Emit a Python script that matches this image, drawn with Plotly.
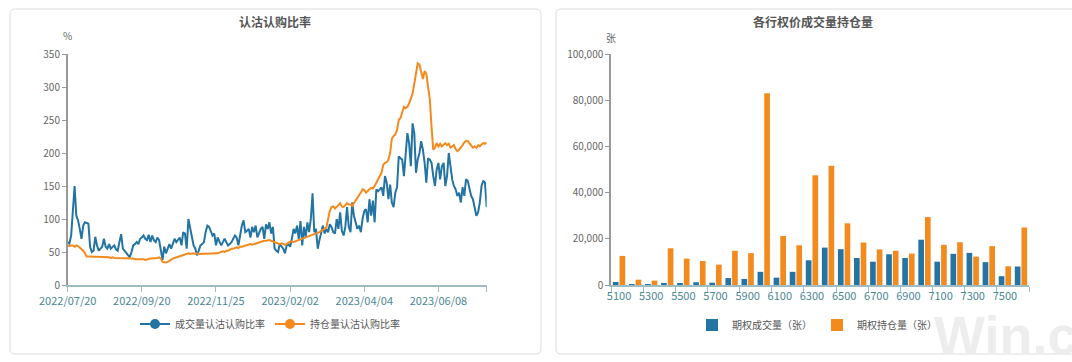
import pandas as pd
import plotly.graph_objects as go

W, H = 1072, 362

# ---------------- data: left chart (daily ratios, %) ----------------
holidays = ["2022-09-12", "2022-10-03", "2022-10-04", "2022-10-05", "2022-10-06", "2022-10-07",
            "2023-01-02", "2023-01-23", "2023-01-24", "2023-01-25", "2023-01-26", "2023-01-27",
            "2023-04-05", "2023-05-01", "2023-05-02", "2023-05-03", "2023-06-22", "2023-06-23"]
dates = pd.bdate_range("2022-07-20", "2023-07-20", freq="C", holidays=holidays).strftime("%Y/%m/%d").tolist()

date_ticks = ["2022/07/20", "2022/09/20", "2022/11/25", "2023/02/02", "2023/04/04", "2023/06/08"]

volume_ratio = [
    65, 63, 75, 120, 150, 105, 98, 85, 70, 90,
    95, 94, 93, 58, 50, 52, 73, 60, 52, 55,
    58, 70, 58, 55, 62, 55, 58, 60, 54, 52,
    65, 77, 55, 52, 48, 45, 42, 50, 60, 62,
    65, 62, 70, 72, 75, 70, 68, 76, 65, 75,
    68, 65, 72, 68, 55, 38, 58, 48, 55, 62,
    55, 62, 70, 65, 68, 72, 60, 80, 78, 55,
    100, 85, 70, 60, 55, 45, 52, 60, 62, 65,
    80, 90, 88, 80, 75, 78, 60, 72, 65, 60,
    65, 70, 65, 60, 62, 65, 70, 75, 72, 60,
    75, 90, 98, 80, 82, 85, 72, 88, 80, 90,
    72, 80, 85, 88, 70, 92, 85, 95, 78, 88,
    55, 52, 50, 62, 58, 55, 48, 60, 62, 58,
    70, 85, 78, 90, 70, 97, 60, 88, 72, 95,
    80, 100, 139, 80, 85, 55, 68, 78, 90, 78,
    85, 80, 92, 88, 80, 78, 100, 85, 110, 82,
    75, 88, 118, 88, 80, 125, 105, 95, 85, 90,
    80, 100, 112, 115, 95, 130, 105, 128, 95, 145,
    142, 145, 148, 135, 165, 155, 130, 152, 125, 118,
    140, 148, 195, 192, 190, 165, 195, 230, 215, 180,
    245, 230, 170, 190, 200, 218, 205, 185, 155, 192,
    190, 185, 165, 150, 175, 185, 160, 180, 185, 150,
    165, 200, 180, 160, 150, 145, 135, 140, 125, 148,
    135, 160, 158, 145, 135, 130, 118, 105, 110, 125,
    150, 158, 155, 118,
]

oi_ratio = [
    60, 59, 60, 60, 58, 60, 59, 57, 55, 52,
    48, 43, 43, 43, 42, 43, 43, 42, 43, 42,
    42, 43, 42, 42, 42, 41, 42, 41, 41, 40,
    40, 41, 40, 40, 40, 41, 40, 40, 40, 39,
    39, 40, 39, 39, 39, 38, 39, 39, 40, 40,
    40, 41, 41, 42, 40, 35, 34, 34, 35, 37,
    39, 40, 41, 42, 43, 44, 45, 46, 47, 47,
    48, 47, 48, 48, 47, 48, 47, 47, 48, 47,
    47, 48, 48, 48, 47, 48, 48, 48, 49, 50,
    51, 50, 52, 52, 54, 55, 55, 56, 57, 56,
    58, 58, 59, 60, 60, 61, 62, 61, 62, 63,
    64, 65, 65, 66, 67, 67, 68, 68, 67, 66,
    65, 64, 63, 62, 63, 62, 61, 62, 64, 66,
    66, 65, 66, 67, 68, 68, 69, 70, 72, 73,
    74, 75, 76, 76, 77, 78, 80, 82, 83, 85,
    87, 100, 112, 118, 119, 116, 118, 121, 124, 119,
    118, 121, 124, 122, 122, 120, 124, 126, 130, 134,
    140, 145, 144, 140, 143, 145, 147, 146, 150, 155,
    162, 165, 170, 182, 185, 186, 190, 200, 222, 226,
    228, 235, 250, 253, 262, 270, 268, 270, 275, 282,
    290, 305, 320, 336, 334, 322, 312, 324, 320, 300,
    282, 240, 205, 208, 215, 210, 214, 210, 213, 215,
    212, 214, 208, 210, 212, 206, 203, 205, 208, 212,
    216, 218, 218, 214, 210, 208, 210, 208, 212, 210,
    213, 215, 214, 216,
]

assert len(dates) == len(volume_ratio) == len(oi_ratio), (len(dates), len(volume_ratio), len(oi_ratio))

# ---------------- data: right chart (per strike) ----------------
strikes = [5100, 5200, 5300, 5400, 5500, 5600, 5700, 5800, 5900, 6000, 6100, 6200, 6300,
           6400, 6500, 6600, 6700, 6800, 6900, 7000, 7100, 7200, 7300, 7400, 7500, 7600]
option_volume = [1300, 150, 300, 900, 600, 1200, 1000, 3000, 2600, 5700, 3200, 5700, 10700,
                 16200, 15500, 11700, 10100, 13300, 11700, 19600, 10100, 13500, 13900, 9900, 3800, 8000]
option_oi = [12600, 2300, 1900, 15900, 11400, 10400, 8800, 14800, 13800, 83000, 21200, 17200, 47500,
             51600, 26700, 18400, 15400, 14800, 13600, 29400, 17400, 18500, 12300, 16800, 8100, 24900]
strike_labels = [5100, 5300, 5500, 5700, 5900, 6100, 6300, 6500, 6700, 6900, 7100, 7300, 7500]

BLUE = "#2474a3"
ORANGE = "#f38a1e"
TEAL = "#4a8793"
AXIS_TEAL = "#9dbcc3"
GRAY_TXT = "#666666"
FONT = "Noto Sans CJK SC, Noto Sans, sans-serif"


def px(x):
    return x / W


def py(y):
    return 1 - y / H


fig = go.Figure()

# left chart lines
fig.add_trace(go.Scatter(x=dates, y=volume_ratio, mode="lines", name="成交量认沽认购比率",
                         line=dict(color=BLUE, width=2), showlegend=False, xaxis="x", yaxis="y"))
fig.add_trace(go.Scatter(x=dates, y=oi_ratio, mode="lines", name="持仓量认沽认购比率",
                         line=dict(color=ORANGE, width=2), showlegend=False, xaxis="x", yaxis="y"))
# legend entries (line + dot)
fig.add_trace(go.Scatter(x=[None], y=[None], mode="lines+markers", name="成交量认沽认购比率",
                         line=dict(color=BLUE, width=2), marker=dict(size=10, color=BLUE),
                         legend="legend", xaxis="x", yaxis="y"))
fig.add_trace(go.Scatter(x=[None], y=[None], mode="lines+markers", name="持仓量认沽认购比率",
                         line=dict(color=ORANGE, width=2), marker=dict(size=10, color=ORANGE),
                         legend="legend", xaxis="x", yaxis="y"))

# right chart bars
fig.add_trace(go.Bar(x=strikes, y=option_volume, name="期权成交量（张）", marker=dict(color=BLUE, line_width=0),
                     legend="legend2", xaxis="x2", yaxis="y2"))
fig.add_trace(go.Bar(x=strikes, y=option_oi, name="期权持仓量（张）", marker=dict(color=ORANGE, line_width=0),
                     legend="legend2", xaxis="x2", yaxis="y2"))

ydom = [py(285), py(54)]

fig.update_layout(
    width=W, height=H,
    margin=dict(l=0, r=0, t=0, b=0, pad=0, autoexpand=False),
    paper_bgcolor="white", plot_bgcolor="white",
    font=dict(family=FONT, size=11, color=GRAY_TXT),
    barmode="group", bargap=0.17, bargroupgap=0.15,
    xaxis=dict(domain=[px(67.7), px(486.7)], type="category", range=[0, len(dates) - 1],
               tickmode="array", tickvals=date_ticks + [dates[-1]], ticktext=date_ticks + [""],
               ticks="outside", ticklen=5, tickcolor=AXIS_TEAL, showline=True, linecolor=AXIS_TEAL,
               linewidth=1.5, showgrid=False, zeroline=False, tickangle=0, automargin=False,
               tickfont=dict(color=TEAL, size=11), anchor="y"),
    yaxis=dict(domain=ydom, range=[0, 350], dtick=50, tick0=0, ticks="outside", ticklen=4,
               tickcolor="#999999", showline=True, linecolor="#999999", linewidth=1.5, automargin=False,
               showgrid=False, zeroline=False, tickfont=dict(color=GRAY_TXT, size=10), anchor="x"),
    xaxis2=dict(domain=[px(611), px(1029)], range=[5050, 7650], tickmode="array",
                tickvals=strike_labels, ticktext=[str(s) for s in strike_labels], ticks="",
                minor=dict(tickmode="array", tickvals=[5050 + 200 * k for k in range(14)],
                           ticks="outside", ticklen=5, tickcolor=AXIS_TEAL, showgrid=False),
                showline=True, linecolor=AXIS_TEAL, linewidth=1.5, showgrid=False, zeroline=False,
                automargin=False, tickfont=dict(color=TEAL, size=11), anchor="y2"),
    yaxis2=dict(domain=ydom, range=[0, 100000], dtick=20000, tick0=0, tickformat=",",
                ticks="outside", ticklen=4, tickcolor="#999999", showline=True, linecolor="#999999",
                linewidth=1.5, showgrid=False, zeroline=False, automargin=False,
                tickfont=dict(color=GRAY_TXT, size=10), anchor="x2"),
    legend=dict(orientation="h", x=px(270), y=py(324), xanchor="center", yanchor="middle",
                font=dict(size=10, color="#555555"), bgcolor="rgba(0,0,0,0)", itemwidth=30),
    legend2=dict(orientation="h", x=px(817), y=py(325), xanchor="center", yanchor="middle",
                 font=dict(size=10, color="#555555"), bgcolor="rgba(0,0,0,0)"),
)


def rounded_rect(x0, y0, x1, y1, r=5):
    X = lambda v: f"{px(v):.5f}"
    Y = lambda v: f"{py(v):.5f}"
    return (f"M {X(x0 + r)},{Y(y0)} L {X(x1 - r)},{Y(y0)} Q {X(x1)},{Y(y0)} {X(x1)},{Y(y0 + r)} "
            f"L {X(x1)},{Y(y1 - r)} Q {X(x1)},{Y(y1)} {X(x1 - r)},{Y(y1)} "
            f"L {X(x0 + r)},{Y(y1)} Q {X(x0)},{Y(y1)} {X(x0)},{Y(y1 - r)} "
            f"L {X(x0)},{Y(y0 + r)} Q {X(x0)},{Y(y0)} {X(x0 + r)},{Y(y0)} Z")


fig.add_shape(type="path", path=rounded_rect(10, 9, 541, 354), xref="paper", yref="paper",
              line=dict(color="#dcdcdc", width=1), fillcolor="rgba(0,0,0,0)", layer="below")
fig.add_shape(type="path", path=rounded_rect(556, 9, 1085, 354), xref="paper", yref="paper",
              line=dict(color="#dcdcdc", width=1), fillcolor="rgba(0,0,0,0)", layer="below")

# watermark
fig.add_annotation(text="Win.c", x=px(1080), y=py(335), xref="paper", yref="paper",
                   xanchor="right", yanchor="middle", showarrow=False,
                   font=dict(family="Liberation Sans, Arial, sans-serif", size=54, color="#ededed", weight=700))

# titles
fig.add_annotation(text="认沽认购比率", x=px(275), y=py(21), xref="paper", yref="paper",
                   showarrow=False, xanchor="center", yanchor="middle",
                   font=dict(size=12, color="#555555", weight=700))
fig.add_annotation(text="各行权价成交量持仓量", x=px(813), y=py(21), xref="paper", yref="paper",
                   showarrow=False, xanchor="center", yanchor="middle",
                   font=dict(size=12, color="#555555", weight=700))
# units
fig.add_annotation(text="%", x=px(67), y=py(36), xref="paper", yref="paper",
                   showarrow=False, xanchor="center", yanchor="middle",
                   font=dict(size=10, color=GRAY_TXT))
fig.add_annotation(text="张", x=px(611), y=py(37), xref="paper", yref="paper",
                   showarrow=False, xanchor="center", yanchor="middle",
                   font=dict(size=10, color=GRAY_TXT))

fig.write_html("out.html", config={"displayModeBar": False},
               post_script="document.body.style.margin='0';document.body.style.overflow='hidden';")
